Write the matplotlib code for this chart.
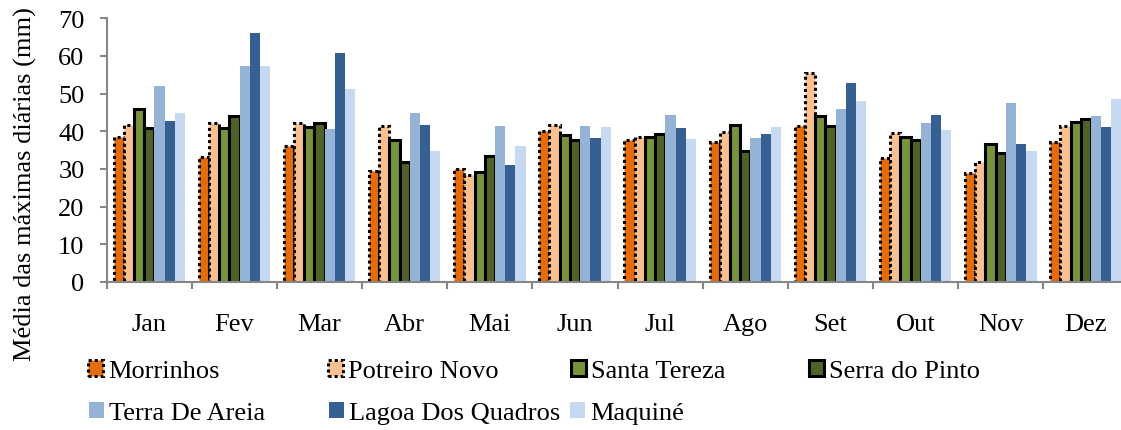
import numpy as np
import matplotlib
matplotlib.use("Agg")
import matplotlib.pyplot as plt

plt.rcParams['font.family'] = ['Liberation Serif', 'DejaVu Serif']

months = ["Jan", "Fev", "Mar", "Abr", "Mai", "Jun", "Jul", "Ago", "Set", "Out", "Nov", "Dez"]

morrinhos = [38.5, 33.2, 36.2, 29.4, 30.0, 40.0, 37.7, 37.2, 41.5, 33.0, 29.0, 37.1]
potreiro_novo = [41.8, 42.3, 42.2, 41.5, 28.4, 41.8, 38.4, 39.9, 55.4, 39.6, 31.9, 41.4]
santa_tereza = [45.9, 41.0, 41.1, 37.7, 29.2, 39.0, 38.4, 41.8, 44.1, 38.5, 36.5, 42.4]
serra_do_pinto = [40.8, 44.1, 42.2, 31.8, 33.5, 37.8, 39.3, 34.8, 41.4, 37.8, 34.2, 43.3]
terra_de_areia = [52.0, 57.3, 40.6, 44.9, 41.3, 41.3, 44.4, 38.1, 45.9, 42.3, 47.5, 44.1]
lagoa_dos_quadros = [42.7, 66.2, 60.8, 41.7, 31.0, 38.1, 40.9, 39.2, 52.7, 44.4, 36.5, 41.1]
maquine = [44.9, 57.4, 51.2, 34.9, 36.2, 41.1, 38.0, 41.1, 48.0, 40.4, 34.7, 48.5]

series = [
    ("Morrinhos", morrinhos, "#E46C0A", "black", (0, (1, 1))),
    ("Potreiro Novo", potreiro_novo, "#FAC090", "black", (0, (1, 1))),
    ("Santa Tereza", santa_tereza, "#77933C", "black", "solid"),
    ("Serra do Pinto", serra_do_pinto, "#4F6228", "black", "solid"),
    ("Terra De Areia", terra_de_areia, "#95B3D7", "none", "solid"),
    ("Lagoa Dos Quadros", lagoa_dos_quadros, "#366092", "none", "solid"),
    ("Maquiné", maquine, "#C6D9F1", "none", "solid"),
]

W, H = 1121, 431
FS = 19
fig = plt.figure(figsize=(W / 100, H / 100), dpi=100)
ax = fig.add_axes([106.7 / W, 1 - 283 / H, (1128.5 - 106.7) / W, (283 - 19.3) / H])

x = np.arange(len(months))
bw = 0.12
handles = []
for k, (name, vals, color, ec, ls) in enumerate(series):
    lw = 2.2 if ec != "none" else 0
    b = ax.bar(x + (k - 3) * bw, vals, width=bw, color=color, edgecolor=ec,
               linewidth=lw, linestyle=ls, label=name, zorder=2)
    handles.append(b)

ax.set_xlim(-0.5, len(months) - 0.5)
ax.set_ylim(0, 70)
ax.set_yticks(np.arange(0, 71, 10))
ax.set_xticks(np.arange(-0.5, len(months), 1.0))
ax.set_xticklabels([])
ax.set_xticks(x, minor=True)
ax.set_xticklabels(months, minor=True)

axis_gray = "#868686"
for side in ("top", "right"):
    ax.spines[side].set_visible(False)
for side in ("left", "bottom"):
    ax.spines[side].set_color(axis_gray)
    ax.spines[side].set_linewidth(1.5)

ax.tick_params(axis="y", direction="out", length=5, width=1.5, color=axis_gray,
               labelsize=FS, pad=11)
ax.tick_params(axis="x", which="major", direction="out", length=5, width=1.5,
               color=axis_gray)
ax.tick_params(axis="x", which="minor", length=0, labelsize=FS, pad=22.5)

fig.text(25 / W, 1 - 184 / H, "Média das máximas diárias (mm)", rotation=90,
         ha="center", va="center", fontsize=FS)

# legend entries laid out in two rows of evenly spaced columns
legend_pos = [(88, 372), (328, 372), (571, 372), (809, 372),
              (89, 414), (329, 414), (570, 414)]
for (px, py), h, (name, *_rest) in zip(legend_pos, handles, series):
    fig.legend([h], [name], loc="center left",
               bbox_to_anchor=(px / W, 1 - py / H), frameon=False,
               fontsize=FS, handlelength=0.58, handleheight=0.55,
               handletextpad=0.17, borderpad=0, borderaxespad=0)

fig.savefig("out.png", dpi=100)
